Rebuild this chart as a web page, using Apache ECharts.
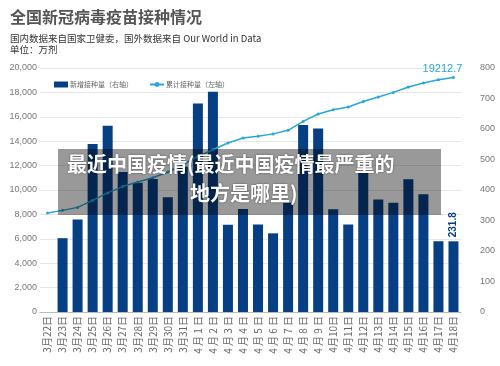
<!DOCTYPE html>
<html>
<head>
<meta charset="utf-8">
<script src="https://cdn.jsdelivr.net/npm/echarts@6/dist/echarts.min.js"></script>
<style>
html,body{margin:0;padding:0;background:#fff;}
#main{width:500px;height:366px;}
</style>
</head>
<body>
<div id="main"></div>
<script>
var categories = ['3月22日','3月23日','3月24日','3月25日','3月26日','3月27日','3月28日','3月29日','3月30日','3月31日',
  '4 月 1 日','4 月 2 日','4 月 3 日','4 月 4 日','4 月 5 日','4 月 6 日','4 月 7 日','4 月 8 日','4 月 9 日',
  '4月10日','4月11日','4月12日','4月13日','4月14日','4月15日','4月16日','4月17日','4月18日'];
var dailyDoses = [null, 242, 303, 551, 611, 459, 424, 436, 376, 476, 684, 722, 286, 338, 287, 258, 358, 613, 602, 337, 287, 458, 369, 358, 435, 386, 232, 231.8];
var cumulativeDoses = [8115, 8330, 8575, 9150, 9760, 10280, 10650, 11000, 11475, 12070, 12750, 13300, 13850, 14260, 14400, 14600, 14890, 15620, 16230, 16580, 16800, 17260, 17620, 18000, 18440, 18770, 19040, 19212.7];
var leftTicks = {min: 0, max: 20000, interval: 2000};
var rightTicks = {min: 0, max: 800, interval: 100};
var seriesNames = ['新增接种量（右轴）', '累计接种量（左轴）'];
var titleText = '全国新冠病毒疫苗接种情况';
var subText1 = '国内数据来自国家卫健委，国外数据来自 Our World in Data';
var subText2 = '单位：万剂';
var overlayLine1 = '最近中国疫情(最近中国疫情最严重的';
var overlayLine2 = '地方是哪里)';

var FONT = 'Noto Sans CJK SC, Noto Sans, sans-serif';
var BAR_COLOR = '#073f84';
var LINE_COLOR = '#27a6dc';
var lastIdx = categories.length - 1;

var chart = echarts.init(document.getElementById('main'), null, {renderer: 'canvas'});
chart.setOption({
  backgroundColor: '#fff',
  animation: false,
  textStyle: {fontFamily: FONT},
  grid: {left: 40, right: 39, top: 68, bottom: 54, containLabel: false},
  legend: {
    left: 49, top: 76,
    itemWidth: 14, itemHeight: 6, itemGap: 16,
    textStyle: {fontSize: 7, color: '#666', fontFamily: FONT, padding: [0, 0, 0, -3]},
    data: [
      {name: seriesNames[0], icon: 'rect'},
      {name: seriesNames[1]}
    ]
  },
  xAxis: {
    type: 'category',
    data: categories,
    boundaryGap: true,
    axisLine: {lineStyle: {color: '#bbb', width: 1}},
    axisTick: {show: false},
    axisLabel: {rotate: 90, fontSize: 10, color: '#666', margin: 4, interval: 0, fontFamily: FONT}
  },
  yAxis: [
    {
      type: 'value', position: 'left',
      min: leftTicks.min, max: leftTicks.max, interval: leftTicks.interval,
      axisLine: {show: false}, axisTick: {show: false},
      axisLabel: {fontSize: 9, color: '#777', margin: 3, fontFamily: 'Liberation Sans, Arial, sans-serif'},
      splitLine: {lineStyle: {color: '#e8e8e8', width: 1}}
    },
    {
      type: 'value', position: 'right',
      min: rightTicks.min, max: rightTicks.max, interval: rightTicks.interval,
      axisLine: {show: false}, axisTick: {show: false},
      axisLabel: {fontSize: 9, color: '#777', margin: 19, fontFamily: 'Liberation Sans, Arial, sans-serif'},
      splitLine: {show: false}
    }
  ],
  series: [
    {
      name: seriesNames[0],
      type: 'bar',
      yAxisIndex: 1,
      barWidth: 10,
      itemStyle: {color: BAR_COLOR},
      data: dailyDoses.map(function (v, i) {
        if (i === lastIdx) {
          return {value: v, label: {show: true, position: 'top', rotate: 90, align: 'left', verticalAlign: 'middle',
            distance: 4, color: BAR_COLOR, fontSize: 10, fontWeight: 'bold', fontFamily: 'Liberation Sans, Arial, sans-serif',
            formatter: function (p) { return String(p.value); }}};
        }
        return v;
      }),
      z: 2
    },
    {
      name: seriesNames[1],
      type: 'line',
      yAxisIndex: 0,
      symbol: 'circle',
      symbolSize: 3,
      itemStyle: {color: LINE_COLOR},
      lineStyle: {color: LINE_COLOR, width: 1.5},
      data: cumulativeDoses.map(function (v, i) {
        if (i === lastIdx) {
          return {value: v, label: {show: true, position: 'top', offset: [-11, 3], color: LINE_COLOR, fontSize: 11,
            fontFamily: 'Liberation Sans, Arial, sans-serif',
            formatter: function (p) { return String(p.value); }}};
        }
        return v;
      }),
      z: 3
    }
  ],
  graphic: [
    {type: 'text', left: 10, top: 9, z: 10,
      style: {text: titleText, fontSize: 16, fontWeight: 'bold', fill: '#555', fontFamily: FONT}},
    {type: 'text', left: 10, top: 34, z: 10,
      style: {text: subText1, fontSize: 9.5, fill: '#333', fontFamily: FONT}},
    {type: 'text', left: 10, top: 45, z: 10,
      style: {text: subText2, fontSize: 9.5, fill: '#333', fontFamily: FONT}},
    {type: 'rect', left: 58, top: 149, z: 100,
      shape: {width: 383, height: 66},
      style: {fill: 'rgba(0,0,0,0.4)'}},
    {type: 'text', left: 67, top: 154, z: 101,
      style: {text: overlayLine1, fontSize: 20, fontWeight: 'bold', fill: '#fff', fontFamily: FONT,
        textShadowColor: 'rgba(0,0,0,0.5)', textShadowBlur: 2}},
    {type: 'text', left: 190, top: 183, z: 101,
      style: {text: overlayLine2, fontSize: 20, fontWeight: 'bold', fill: '#fff', fontFamily: FONT,
        textShadowColor: 'rgba(0,0,0,0.5)', textShadowBlur: 2}}
  ]
});
</script>
</body>
</html>
